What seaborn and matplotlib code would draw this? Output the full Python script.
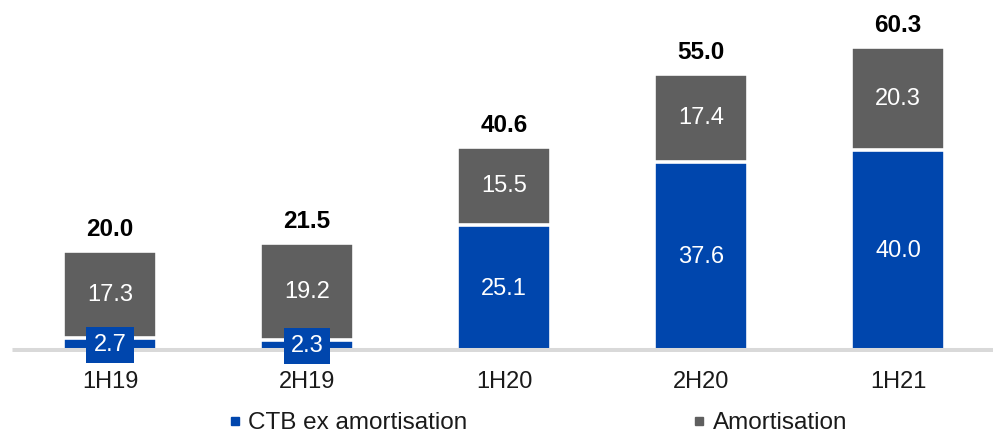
import matplotlib
matplotlib.use("Agg")
import matplotlib.pyplot as plt
from matplotlib.lines import Line2D
import seaborn as sns
import pandas as pd

periods = ["1H19", "2H19", "1H20", "2H20", "1H21"]
ctb_ex_amort = [2.7, 2.3, 25.1, 37.6, 40.0]
amortisation = [17.3, 19.2, 15.5, 17.4, 20.3]

BLUE = "#0046AD"
GREY = "#5F5F5F"
BAND = "#D9D9D9"

df = pd.DataFrame({"period": periods, "ctb": ctb_ex_amort, "amort": amortisation})
df["total"] = df["ctb"] + df["amort"]

sns.set_theme(style="white")
plt.rcParams["font.family"] = ["Liberation Sans", "DejaVu Sans"]

fig = plt.figure(figsize=(9.93, 4.36), dpi=100)
W, H = 993, 436
left_px, right_px, zero_px, top_px = 12, 993, 352, 20
ax = fig.add_axes([left_px / W, (H - zero_px) / H, (right_px - left_px) / W, (zero_px - top_px) / H])

# stacked look: full-height grey bar, blue base segment drawn on top
sns.barplot(data=df, x="period", y="total", color=GREY, saturation=1, width=0.48,
            edgecolor="white", linewidth=2.6, ax=ax, zorder=2)
sns.barplot(data=df, x="period", y="ctb", color=BLUE, saturation=1, width=0.48,
            edgecolor="white", linewidth=2.6, ax=ax, zorder=3)

px_per_unit = 5.05
ax.set_ylim(0, (zero_px - top_px) / px_per_unit)
xmin = -(110 - left_px) / 197
ax.set_xlim(xmin, xmin + (right_px - left_px) / 197)

# baseline band
ax.axhline(0, color=BAND, lw=6.5, zorder=4, solid_capstyle="butt")

for i, row in df.iterrows():
    c, a, t = row["ctb"], row["amort"], row["total"]
    if c < 5:
        ax.text(i, c / 2, f"{c:.1f}", ha="center", va="center", color="white", fontsize=17,
                zorder=6, bbox=dict(boxstyle="square,pad=0.3", fc=BLUE, ec="none"))
    else:
        ax.text(i, c / 2, f"{c:.1f}", ha="center", va="center", color="white", fontsize=17, zorder=6)
    ax.text(i, c + a / 2, f"{a:.1f}", ha="center", va="center", color="white", fontsize=17, zorder=6)
    ax.text(i, t + 2.0, f"{t:.1f}", ha="center", va="bottom", color="black", fontsize=17.5,
            fontweight="bold", zorder=6)

ax.set_xlabel("")
ax.set_ylabel("")
ax.set_yticks([])
ax.tick_params(axis="x", length=0, pad=13.5, labelsize=17, labelcolor="#1a1a1a")
for s in ax.spines.values():
    s.set_visible(False)

handles = [
    Line2D([], [], marker="s", linestyle="none", markersize=5.5, color=BLUE, label="CTB ex amortisation"),
    Line2D([], [], marker="s", linestyle="none", markersize=5.5, color=GREY, label="Amortisation"),
]
fig.legend(handles=handles, loc="center", bbox_to_anchor=(538 / W, (H - 423) / H), ncol=2,
           frameon=False, fontsize=17.5, handlelength=0.5, handletextpad=0.3,
           columnspacing=9.3, labelcolor="#1a1a1a")

fig.savefig("out.png", dpi=100)
